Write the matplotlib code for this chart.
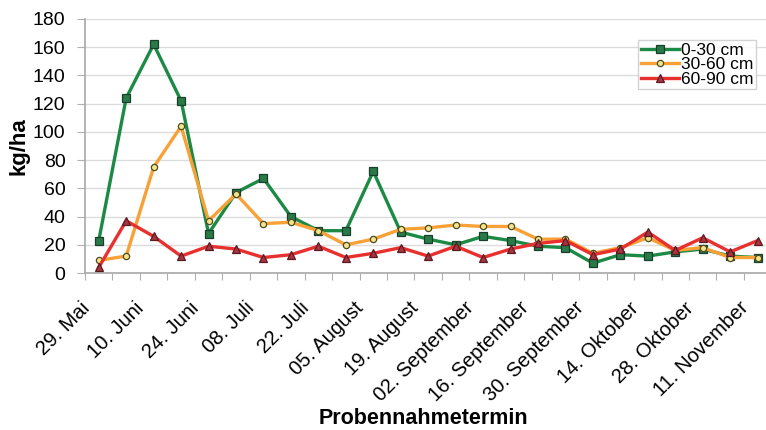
import matplotlib.pyplot as plt

plt.rcParams['font.family'] = ['Liberation Sans', 'DejaVu Sans']

# 25 Probennahmetermine, jeder zweite beschriftet
tick_labels = ["29. Mai", "10. Juni", "24. Juni", "08. Juli", "22. Juli",
               "05. August", "19. August", "02. September", "16. September",
               "30. September", "14. Oktober", "28. Oktober", "11. November"]

depth_0_30 = [23, 124, 162, 122, 28, 57, 67, 40, 30, 30, 72, 29, 24,
              20, 26, 23, 19, 18, 7, 13, 12, 15, 17, 12, 11]
depth_30_60 = [9, 12, 75, 104, 37, 56, 35, 36, 30, 20, 24, 31, 32,
               34, 33, 33, 24, 24, 14, 18, 25, 16, 18, 11, 11]
depth_60_90 = [4, 37, 26, 12, 19, 17, 11, 13, 19, 11, 14, 18, 12,
               19, 11, 17, 21, 23, 13, 17, 29, 16, 25, 15, 23]

x = list(range(len(depth_0_30)))

fig = plt.figure(figsize=(7.66, 4.30), dpi=100)
ax = fig.add_axes([0.111, 0.365, 0.896, 0.591])

ax.plot(x, depth_0_30, color="#1c8a45", lw=2.4, marker="s", ms=5.5,
        mfc="#2a7a48", mec="#17402a", mew=0.9, label="0-30 cm", zorder=3)
ax.plot(x, depth_30_60, color="#f7a136", lw=2.4, marker="o", ms=4.5,
        mfc="#f3e58a", mec="#4d4a1e", mew=0.9, label="30-60 cm", zorder=3)
ax.plot(x, depth_60_90, color="#e8302e", lw=2.4, marker="^", ms=5.5,
        mfc="#a8343f", mec="#5a1a22", mew=0.9, label="60-90 cm", zorder=3)

ax.set_xlim(-0.5, len(x) - 0.5)
ax.set_ylim(0, 180)
ax.set_yticks(range(0, 181, 20))
ax.yaxis.grid(True, color="#dcdcdc", lw=1.0)
ax.set_axisbelow(True)

# Ticks zwischen den Kategorien, Beschriftung an jeder zweiten
# (Beschriftung etwas nach links versetzt wie in Excel)
ax.set_xticks([i - 0.5 for i in range(len(x) + 1)], minor=False)
ax.set_xticklabels([])
ax.set_xticks([i - 0.45 for i in x[::2]], minor=True)
ax.set_xticklabels(tick_labels, minor=True, rotation=45, ha="right",
                   va="center", rotation_mode="anchor", fontsize=14.5)
ax.tick_params(axis="x", which="major", length=5, color="#b0b0b0")
ax.tick_params(axis="x", which="minor", length=0, pad=23)
ax.tick_params(axis="y", length=6, color="#b0b0b0", labelsize=14, pad=8)

for side in ["top", "right"]:
    ax.spines[side].set_visible(False)
for side in ["left", "bottom"]:
    ax.spines[side].set_color("#a8a8a8")
    ax.spines[side].set_linewidth(1.2)

ax.set_ylabel("kg/ha", fontsize=16, fontweight="bold")
ax.yaxis.set_label_coords(-0.081, 0.5)
fig.text(0.553, 0.026, "Probennahmetermin", fontsize=15.5,
         fontweight="bold", ha="center", va="center")

leg = ax.legend(loc="upper right", bbox_to_anchor=(0.99, 0.95), fontsize=12.5,
                frameon=True, fancybox=False, handlelength=2.2,
                handletextpad=0.1, borderpad=0.15, labelspacing=-0.05)
leg.get_frame().set_edgecolor("#c8c8c8")
leg.get_frame().set_linewidth(1.0)

fig.savefig("out.png", dpi=100)
